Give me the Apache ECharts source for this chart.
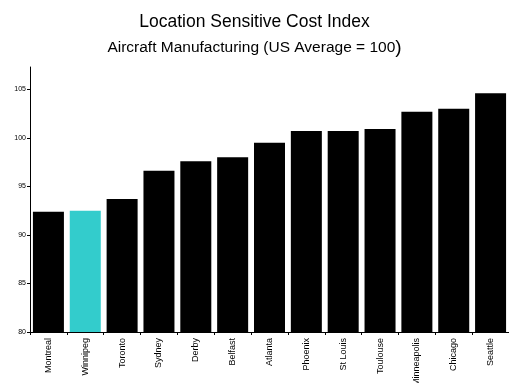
<!DOCTYPE html>
<html>
<head>
<meta charset="utf-8">
<script src="https://cdn.jsdelivr.net/npm/echarts@6/dist/echarts.min.js"></script>
<style>
  html, body { margin: 0; padding: 0; background: #fff; }
  #chart { width: 509px; height: 383px; }
</style>
</head>
<body>
<div id="chart"></div>
<script>
// Cost index by location, US average = 100
const cities = ['Montreal', 'Winnipeg', 'Toronto', 'Sydney', 'Derby', 'Belfast', 'Atlanta',
  'Phoenix', 'St Louis', 'Toulouse', 'Minneapolis', 'Chicago', 'Seattle'];
const costIndex = [92.4, 92.5, 93.7, 96.6, 97.6, 98.0, 99.5, 100.7, 100.7, 100.9, 102.7, 103.0, 104.6];
const highlightCity = 'Winnipeg';
const yTicks = [80, 85, 90, 95, 100, 105];

const FONT = 'Liberation Sans, Arial, sans-serif';

const chart = echarts.init(document.getElementById('chart'));
chart.setOption({
  animation: false,
  backgroundColor: '#ffffff',
  title: [
    {
      text: 'Location Sensitive Cost Index',
      left: 'center', top: 8,
      textStyle: { fontFamily: FONT, fontSize: 17.5, fontWeight: 'normal', color: '#000' }
    },
    {
      text: 'Aircraft Manufacturing (US Average = 100{p|)}',
      left: 'center', top: 33,
      textStyle: {
        fontFamily: FONT, fontSize: 15.5, fontWeight: 'normal', color: '#000',
        rich: { p: { fontFamily: FONT, fontSize: 19, color: '#000' } }
      }
    }
  ],
  grid: { left: 30, right: 0, top: 67, bottom: 51, containLabel: false, outerBoundsMode: 'none' },
  xAxis: {
    type: 'category',
    data: cities,
    axisLine: { lineStyle: { color: '#000', width: 1 } },
    axisTick: { show: true, length: 3, lineStyle: { color: '#000' } },
    axisLabel: {
      rotate: 90, interval: 0, margin: 6,
      fontFamily: FONT, fontSize: 9, color: '#000'
    }
  },
  yAxis: {
    type: 'value',
    min: 80, max: 107.3,
    axisLine: { show: true, lineStyle: { color: '#000', width: 1 } },
    axisTick: { show: true, length: 3, lineStyle: { color: '#000' }, customValues: yTicks },
    axisLabel: {
      customValues: yTicks, margin: 4,
      fontFamily: FONT, fontSize: 7, color: '#000'
    },
    splitLine: { show: false }
  },
  series: [{
    type: 'bar',
    data: costIndex.map((v, i) => ({
      value: v,
      itemStyle: { color: cities[i] === highlightCity ? '#33CCCC' : '#000000' }
    })),
    barWidth: 31
  }]
});
</script>
</body>
</html>
